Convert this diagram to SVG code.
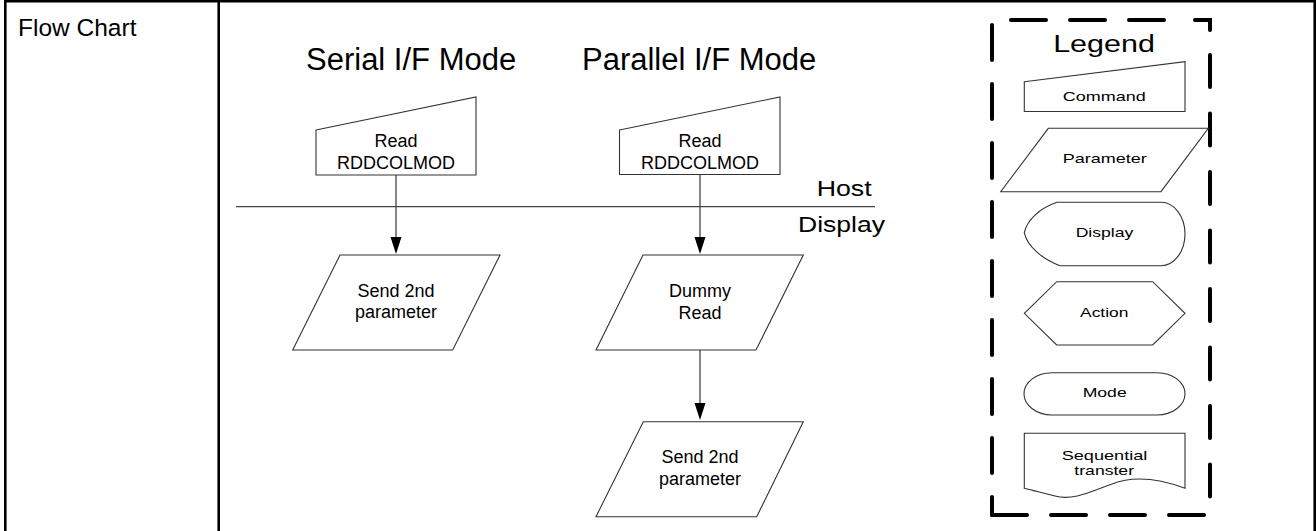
<svg xmlns="http://www.w3.org/2000/svg" width="1316" height="531" viewBox="0 0 1316 531">
<style>
text{font-family:"Liberation Sans",Arial,sans-serif;fill:#000}
.frame{stroke:#000;stroke-width:2.6;fill:none}
.shape{fill:#fff;stroke:#333;stroke-width:1.1}
.conn{stroke:#444;stroke-width:1.3;fill:none}
.head{fill:#000;stroke:none}
.node{font-size:18px;text-anchor:middle}
.title{font-size:31px}
.side{font-size:21.5px}
.leg{font-size:13.5px;text-anchor:middle}
.dash{stroke:#000;stroke-width:4;fill:none;stroke-linecap:round;stroke-dasharray:35 24}
</style>
<rect width="1316" height="531" fill="#fff"/>
<g id="frame">
<line class="frame" x1="4" y1="1.3" x2="1316" y2="1.3"/>
<line class="frame" x1="5.3" y1="0" x2="5.3" y2="531"/>
<line class="frame" x1="218.7" y1="0" x2="218.7" y2="531"/>
<line class="frame" x1="1314.7" y1="0" x2="1314.7" y2="531"/>
<text x="18" y="36" font-size="24.5px">Flow Chart</text>
</g>
<g id="titles">
<text class="title" x="306" y="69.5">Serial I/F Mode</text>
<text class="title" x="582" y="69.5">Parallel I/F Mode</text>
</g>
<g id="boundary">
<line class="conn" x1="236" y1="206.7" x2="875" y2="206.7"/>
<text class="side" x="816.7" y="196" textLength="55" lengthAdjust="spacingAndGlyphs">Host</text>
<text class="side" x="798" y="231.7" textLength="87" lengthAdjust="spacingAndGlyphs">Display</text>
</g>
<g id="connectors">
<line class="conn" x1="396" y1="175" x2="396" y2="238"/>
<polygon class="head" points="390.5,237 401.5,237 396,254"/>
<line class="conn" x1="700" y1="175" x2="700" y2="238"/>
<polygon class="head" points="694.5,237 705.5,237 700,254"/>
<line class="conn" x1="700" y1="350" x2="700" y2="404"/>
<polygon class="head" points="694.5,403 705.5,403 700,420"/>
</g>
<g id="serial-cmd">
<path class="shape" d="M316,130 L476,97 V175 H316 Z"/>
<text class="node" x="396" y="146.7">Read</text>
<text class="node" x="396" y="169">RDDCOLMOD</text>
</g>
<g id="serial-param">
<path class="shape" d="M340,255 H500 L452.7,350 H292.7 Z"/>
<text class="node" x="396" y="297.3">Send 2nd</text>
<text class="node" x="396" y="318.3">parameter</text>
</g>
<g id="parallel-cmd">
<path class="shape" d="M619.5,130 L780,97 V174.5 H619.5 Z"/>
<text class="node" x="700" y="146.7">Read</text>
<text class="node" x="700" y="169">RDDCOLMOD</text>
</g>
<g id="parallel-dummy">
<path class="shape" d="M643,255 H803.3 L756,350 H596 Z"/>
<text class="node" x="700" y="297.3">Dummy</text>
<text class="node" x="700" y="319">Read</text>
</g>
<g id="parallel-param">
<path class="shape" d="M643.3,421.7 H803.3 L756.7,516.7 H596 Z"/>
<text class="node" x="700" y="463.3">Send 2nd</text>
<text class="node" x="700" y="485">parameter</text>
</g>
<g id="legend">
<line class="dash" x1="992" y1="25" x2="992" y2="515"/>
<line class="dash" x1="992" y1="515" x2="1205" y2="515"/>
<line class="dash" x1="1011" y1="20" x2="1170" y2="20"/>
<path class="dash" style="stroke-dasharray:none" d="M1195,20 H1210 V30"/>
<line class="dash" style="stroke-dasharray:32 26.5" x1="1210" y1="55" x2="1210" y2="500"/>
<text x="1104" y="51.7" font-size="23px" text-anchor="middle" textLength="101.7" lengthAdjust="spacingAndGlyphs">Legend</text>
</g>
<g id="legend-command">
<path class="shape" d="M1024.3,81.7 L1185,61.7 V111.5 H1024.3 Z"/>
<text class="leg" x="1104.3" y="100.7" textLength="83" lengthAdjust="spacingAndGlyphs">Command</text>
</g>
<g id="legend-parameter">
<path class="shape" d="M1048.3,128.3 H1208.3 L1161,191.7 H1000.7 Z"/>
<text class="leg" x="1104.7" y="163.3" textLength="84" lengthAdjust="spacingAndGlyphs">Parameter</text>
</g>
<g id="legend-display">
<path class="shape" d="M1057,202.3 H1161 A24,31.7 0 0 1 1161,265.7 H1060 C1042,259 1027,246 1024.3,232.7 C1027,220 1040,208 1057,202.3 Z"/>
<text class="leg" x="1104.5" y="236.7" textLength="57.7" lengthAdjust="spacingAndGlyphs">Display</text>
</g>
<g id="legend-action">
<path class="shape" d="M1024.3,313.3 L1056.7,281.7 H1152.7 L1185,313.3 L1152.7,345 H1056.7 Z"/>
<text class="leg" x="1104.2" y="317.3" textLength="48.3" lengthAdjust="spacingAndGlyphs">Action</text>
</g>
<g id="legend-mode">
<path class="shape" d="M1052,372.7 H1157 A28,21.15 0 0 1 1157,415 H1052 A28,21.15 0 0 1 1052,372.7 Z"/>
<text class="leg" x="1104.7" y="397.3" textLength="44" lengthAdjust="spacingAndGlyphs">Mode</text>
</g>
<g id="legend-sequential">
<path class="shape" d="M1024.3,433.3 H1185 V488.3 C1160,479 1135,475 1112,484 C1090,492 1072,501 1055,496 C1044,493 1034,491 1024.3,488.3 Z"/>
<text class="leg" x="1104.5" y="460" textLength="85.7" lengthAdjust="spacingAndGlyphs">Sequential</text>
<text class="leg" x="1104.2" y="475" textLength="59.7" lengthAdjust="spacingAndGlyphs">transter</text>
</g>
</svg>
